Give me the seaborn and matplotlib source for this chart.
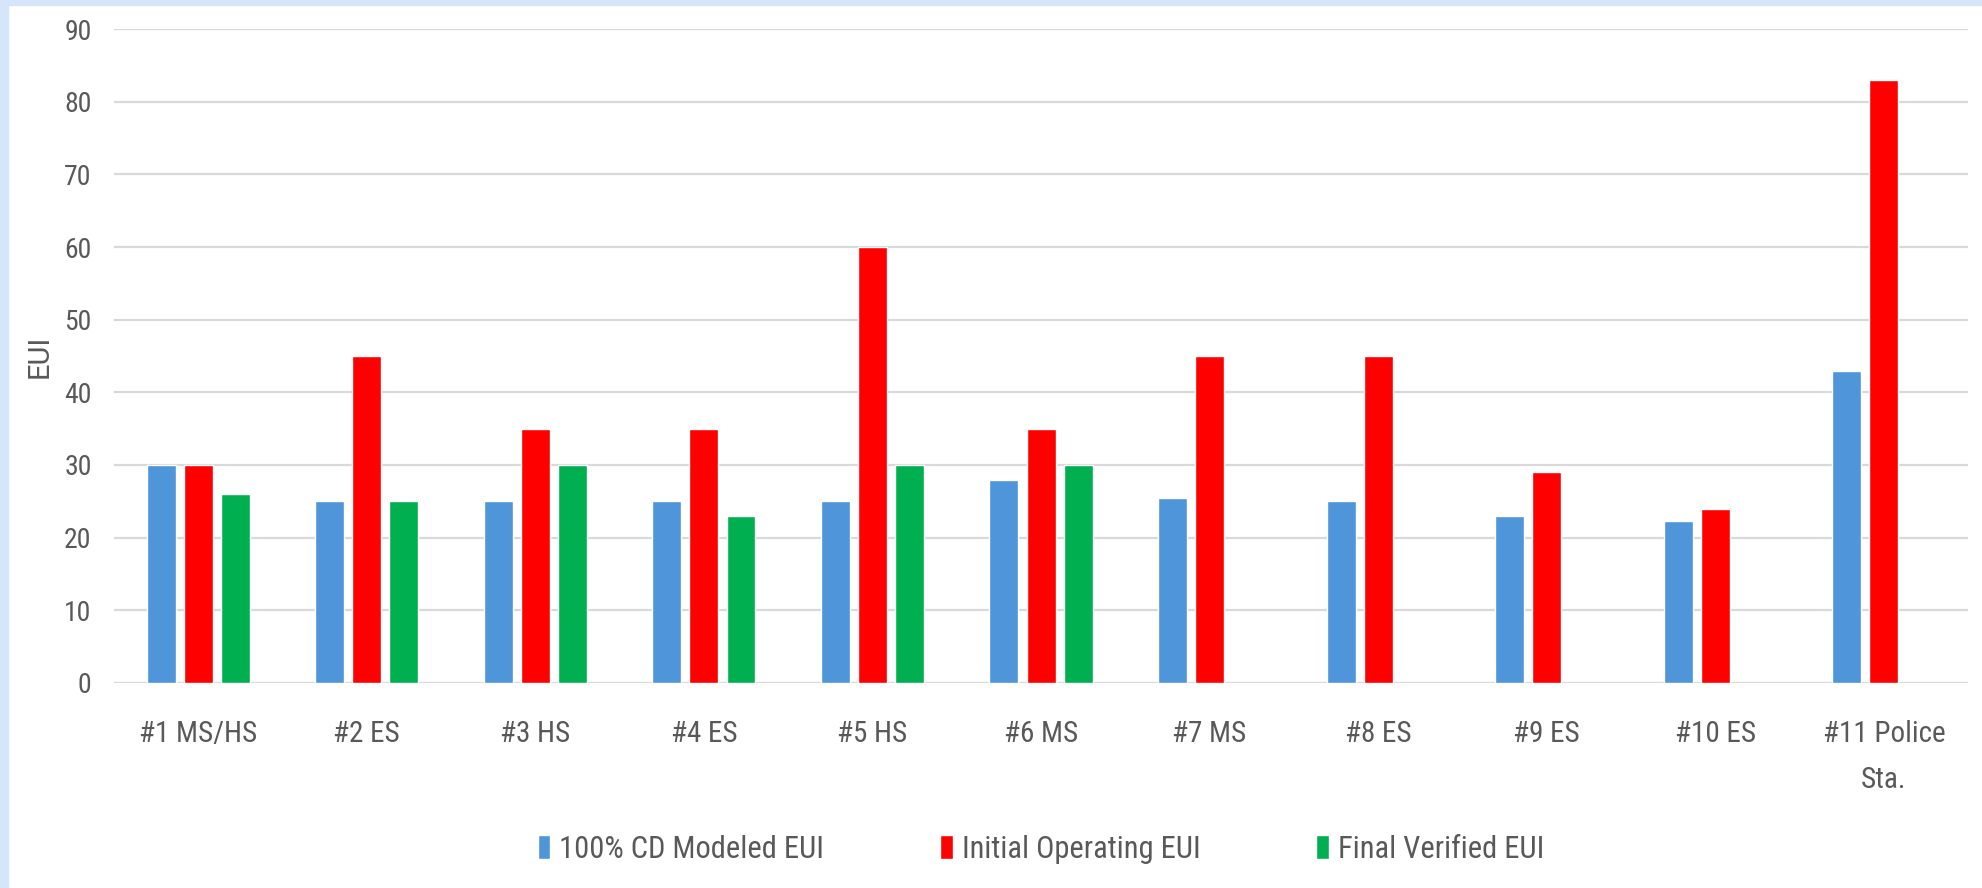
import matplotlib
matplotlib.use('Agg')
import matplotlib.pyplot as plt
from matplotlib.patches import Rectangle
import seaborn as sns
import pandas as pd
import numpy as np

# data
buildings = ['#1 MS/HS', '#2 ES', '#3 HS', '#4 ES', '#5 HS', '#6 MS',
             '#7 MS', '#8 ES', '#9 ES', '#10 ES', '#11 Police\nSta.']
modeled_eui = [30, 25, 25, 25, 25, 28, 25.4, 25, 23, 22.3, 43]
initial_eui = [30, 45, 35, 35, 60, 35, 45, 45, 29, 24, 83]
final_eui = [26, 25, 30, 23, 30, 30, np.nan, np.nan, np.nan, np.nan, np.nan]

series_names = ['100% CD Modeled EUI', 'Initial Operating EUI', 'Final Verified EUI']
series_colors = ['#4E95D9', '#FF0000', '#00B050']
y_ticks = [0, 10, 20, 30, 40, 50, 60, 70, 80, 90]

df = pd.DataFrame({
    'building': buildings * 3,
    'series': [series_names[0]] * 11 + [series_names[1]] * 11 + [series_names[2]] * 11,
    'eui': modeled_eui + initial_eui + final_eui,
})

sns.set_theme(style='white')
plt.rcParams['font.family'] = ['Roboto Condensed', 'Liberation Sans Narrow', 'Roboto', 'DejaVu Sans']
text_color = '#595959'

fig = plt.figure(figsize=(19.82, 8.88), dpi=100)
ax = fig.add_axes([0.0575, 0.2309, 0.9355, 0.7364])

sns.barplot(data=df, x='building', y='eui', hue='series', order=buildings,
            hue_order=series_names, palette=series_colors, width=0.66, gap=0.22,
            saturation=1, errorbar=None, ax=ax, zorder=3)

ax.set_ylim(0, 90)
ax.set_xlim(-0.5, len(buildings) - 0.5)
ax.set_yticks(y_ticks)
ax.grid(True, axis='y', color='#D9D9D9', linewidth=1.6, zorder=0)
ax.set_axisbelow(True)
for s in ax.spines.values():
    s.set_visible(False)

ax.tick_params(axis='both', length=0, colors=text_color)
ax.tick_params(axis='x', labelsize=21, pad=27)
ax.tick_params(axis='y', labelsize=20, pad=16)
for lab in ax.get_xticklabels():
    lab.set_linespacing(1.8)
ax.set_xlabel('')
ax.set_ylabel('EUI', fontsize=21, color=text_color, labelpad=8,
              family=['Roboto', 'DejaVu Sans'])

handles, labels = ax.get_legend_handles_labels()
ax.legend(handles, labels, loc='upper center', bbox_to_anchor=(0.5, -0.19),
          ncol=3, frameon=False, fontsize=22, labelcolor=text_color,
          handlelength=0.4, handleheight=0.85, handletextpad=0.3,
          columnspacing=3.8)

# light blue frame on the left and top edges
fig.patches.append(Rectangle((0, 0), 8 / 1982, 1, transform=fig.transFigure,
                             color='#D6E6FA', zorder=0))
fig.patches.append(Rectangle((0, 1 - 5 / 888), 1, 5 / 888, transform=fig.transFigure,
                             color='#D6E6FA', zorder=0))

fig.savefig('out.png', dpi=100, facecolor='white')
